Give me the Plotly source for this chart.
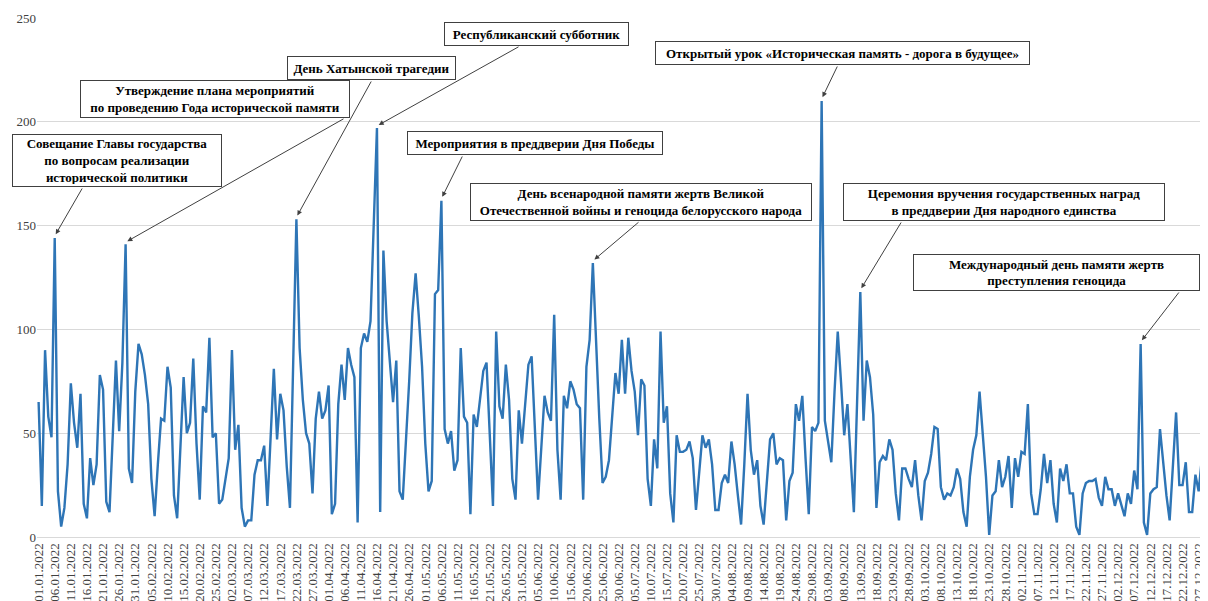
import pandas as pd
import plotly.graph_objects as go

# ---------------- data ----------------
start_date = "2022-01-01"
values = [
    65, 15, 90, 58, 48, 144, 22, 5, 14, 35, 74, 55, 43, 69, 16, 9, 38, 25, 35, 78,
    71, 17, 12, 45, 85, 51, 84, 141, 33, 26, 70, 93, 88, 78, 64, 28, 10, 35, 57, 56,
    82, 72, 20, 9, 40, 77, 50, 55, 86, 45, 18, 63, 60, 96, 48, 50, 16, 18, 28, 38,
    90, 42, 54, 14, 5, 8, 8, 30, 37, 37, 44, 15, 48, 81, 47, 69, 61, 34, 14, 80,
    153, 91, 66, 50, 45, 21, 57, 70, 57, 61, 73, 11, 16, 64, 83, 66, 91, 83, 77, 7,
    91, 98, 94, 104, 150, 197, 12, 138, 104, 85, 65, 85, 22, 18, 45, 75, 108, 127, 106, 82,
    45, 22, 27, 117, 119, 162, 52, 45, 51, 32, 37, 91, 58, 55, 11, 59, 53, 66, 80, 84,
    45, 15, 99, 63, 57, 83, 66, 28, 18, 61, 45, 64, 83, 87, 53, 18, 43, 68, 60, 56,
    107, 42, 18, 68, 62, 75, 71, 64, 62, 18, 82, 95, 132, 93, 57, 26, 29, 37, 60, 79,
    69, 95, 69, 96, 80, 70, 49, 76, 73, 28, 15, 47, 33, 99, 55, 63, 21, 7, 49, 41,
    41, 42, 46, 38, 13, 30, 49, 43, 47, 35, 13, 13, 26, 30, 26, 46, 35, 20, 6, 35,
    69, 42, 30, 37, 15, 6, 27, 47, 50, 35, 38, 37, 8, 27, 31, 64, 56, 68, 38, 11,
    53, 51, 55, 210, 56, 46, 36, 70, 99, 75, 49, 64, 38, 12, 65, 118, 56, 85, 77, 59,
    14, 36, 39, 37, 47, 42, 21, 8, 33, 33, 28, 24, 37, 20, 8, 27, 31, 40, 53, 52,
    24, 18, 21, 20, 24, 33, 28, 12, 5, 29, 42, 49, 70, 51, 29, 1, 20, 22, 37, 24,
    29, 39, 14, 38, 29, 41, 40, 64, 21, 11, 11, 23, 40, 26, 37, 16, 7, 33, 27, 35,
    21, 21, 5, 1, 21, 26, 27, 27, 28, 19, 15, 29, 23, 23, 15, 21, 15, 10, 21, 16,
    32, 23, 93, 7, 1, 21, 23, 24, 52, 36, 20, 8, 37, 60, 25, 25, 36, 12, 12, 30,
    22, 38, 25, 25, 24,
]
dates = pd.date_range(start_date, periods=len(values), freq="D")

annotation_texts = [
    "Совещание Главы государства<br>по вопросам реализации<br>исторической политики",
    "Утверждение плана мероприятий<br>по проведению Года исторической памяти",
    "День Хатынской трагедии",
    "Республиканский субботник",
    "Мероприятия в преддверии Дня Победы",
    "День всенародной памяти жертв Великой<br>Отечественной войны и геноцида белорусского народа",
    "Открытый урок «Историческая память - дорога в будущее»",
    "Церемония вручения государственных наград<br>в преддверии Дня народного единства",
    "Международный день памяти жертв<br>преступления геноцида",
]
annotation_days = ["2022-01-06", "2022-01-28", "2022-03-22", "2022-04-16", "2022-05-06",
                   "2022-06-22", "2022-09-01", "2022-09-13", "2022-12-09"]

# ---------------- layout geometry (page pixels) ----------------
OFF = 8                      # default page margin of the html body
PAGE_W, PAGE_H = 1208, 601
W, H = PAGE_W - OFF, PAGE_H - OFF
PLOT_L, PLOT_R, PLOT_T, PLOT_B = 37, 1208, 18, 537   # page coords
ML, MR, MT = PLOT_L - OFF, PAGE_W - PLOT_R, PLOT_T - OFF
MB = H - (PLOT_B - OFF)
PW, PH = PLOT_R - PLOT_L, PLOT_B - PLOT_T
x0 = pd.Timestamp(start_date) - pd.Timedelta(hours=12)
x1 = pd.Timestamp(start_date) + pd.Timedelta(days=362.9)
span = x1 - x0

def px_to_date(px):
    return x0 + span * ((px - PLOT_L) / PW)

def py_to_val(py):
    return (PLOT_B - py) / PH * 250

# box: (left, right, top, bottom), arrow start (sx, sy) in page pixels
boxes = [
    (12, 222, 134, 187, 83, 187),
    (80, 350, 80, 118, 345, 118),
    (287, 456, 56, 80, 372, 80),
    (444, 629, 22, 46, 520, 46),
    (407, 663, 131, 155, 463, 155),
    (470, 812, 183, 221, 640, 221),
    (655, 1030, 41, 65, 838, 65),
    (843, 1165, 183, 221, 902, 221),
    (913, 1200, 254, 291, 1180, 291),
]

SERIF = "Liberation Serif, Tinos, Times New Roman, DejaVu Serif, serif"

fig = go.Figure()
fig.add_trace(go.Scatter(
    x=dates, y=values, mode="lines",
    line=dict(color="#2E75B6", width=2.4),
    hoverinfo="skip", showlegend=False,
))

annotations = []
val_by_date = dict(zip(dates.strftime("%Y-%m-%d"), values))
for text, day, (l, r, t, b, sx, sy) in zip(annotation_texts, annotation_days, boxes):
    annotations.append(dict(
        x=pd.Timestamp(day), y=val_by_date[day] + 1, xref="x", yref="y",
        ax=px_to_date(sx), ay=py_to_val(sy), axref="x", ayref="y",
        text="", showarrow=True, arrowhead=2, arrowsize=1, arrowwidth=1,
        arrowcolor="#404040", standoff=2,
    ))
    pad = 2
    annotations.append(dict(
        x=((l + r) / 2 - PLOT_L) / PW, y=(PLOT_B - (t + b) / 2) / PH,
        xref="paper", yref="paper", xanchor="center", yanchor="middle",
        text="<b>" + text + "</b>", showarrow=False,
        font=dict(family=SERIF, size=13, color="#000000"),
        width=r - l - 2 * pad - 2, height=b - t - 2 * pad - 2,
        bgcolor="#FFFFFF", bordercolor="#404040", borderwidth=1, borderpad=pad,
        align="center", valign="middle",
    ))

fig.update_layout(
    width=W, height=H,
    margin=dict(l=ML, r=MR, t=MT, b=MB, autoexpand=False),
    paper_bgcolor="#FFFFFF", plot_bgcolor="#FFFFFF",
    annotations=annotations,
    font=dict(family=SERIF, size=13, color="#404040"),
)
fig.update_xaxes(
    type="date", range=[x0, x1],
    tick0=start_date, dtick=5 * 86400000, tickformat="%d.%m.%Y",
    tickangle=-90, ticks="", showgrid=False, automargin=False,
    showline=True, linecolor="#D9D9D9", linewidth=1,
    tickfont=dict(family=SERIF, size=13, color="#404040"),
)
fig.update_yaxes(
    range=[0, 250], dtick=50, tick0=0,
    showgrid=True, gridcolor="#D9D9D9", gridwidth=1,
    zeroline=False, showline=False, ticks="", automargin=False,
    tickfont=dict(family=SERIF, size=13, color="#404040"),
)

fig.write_html("out.html")
